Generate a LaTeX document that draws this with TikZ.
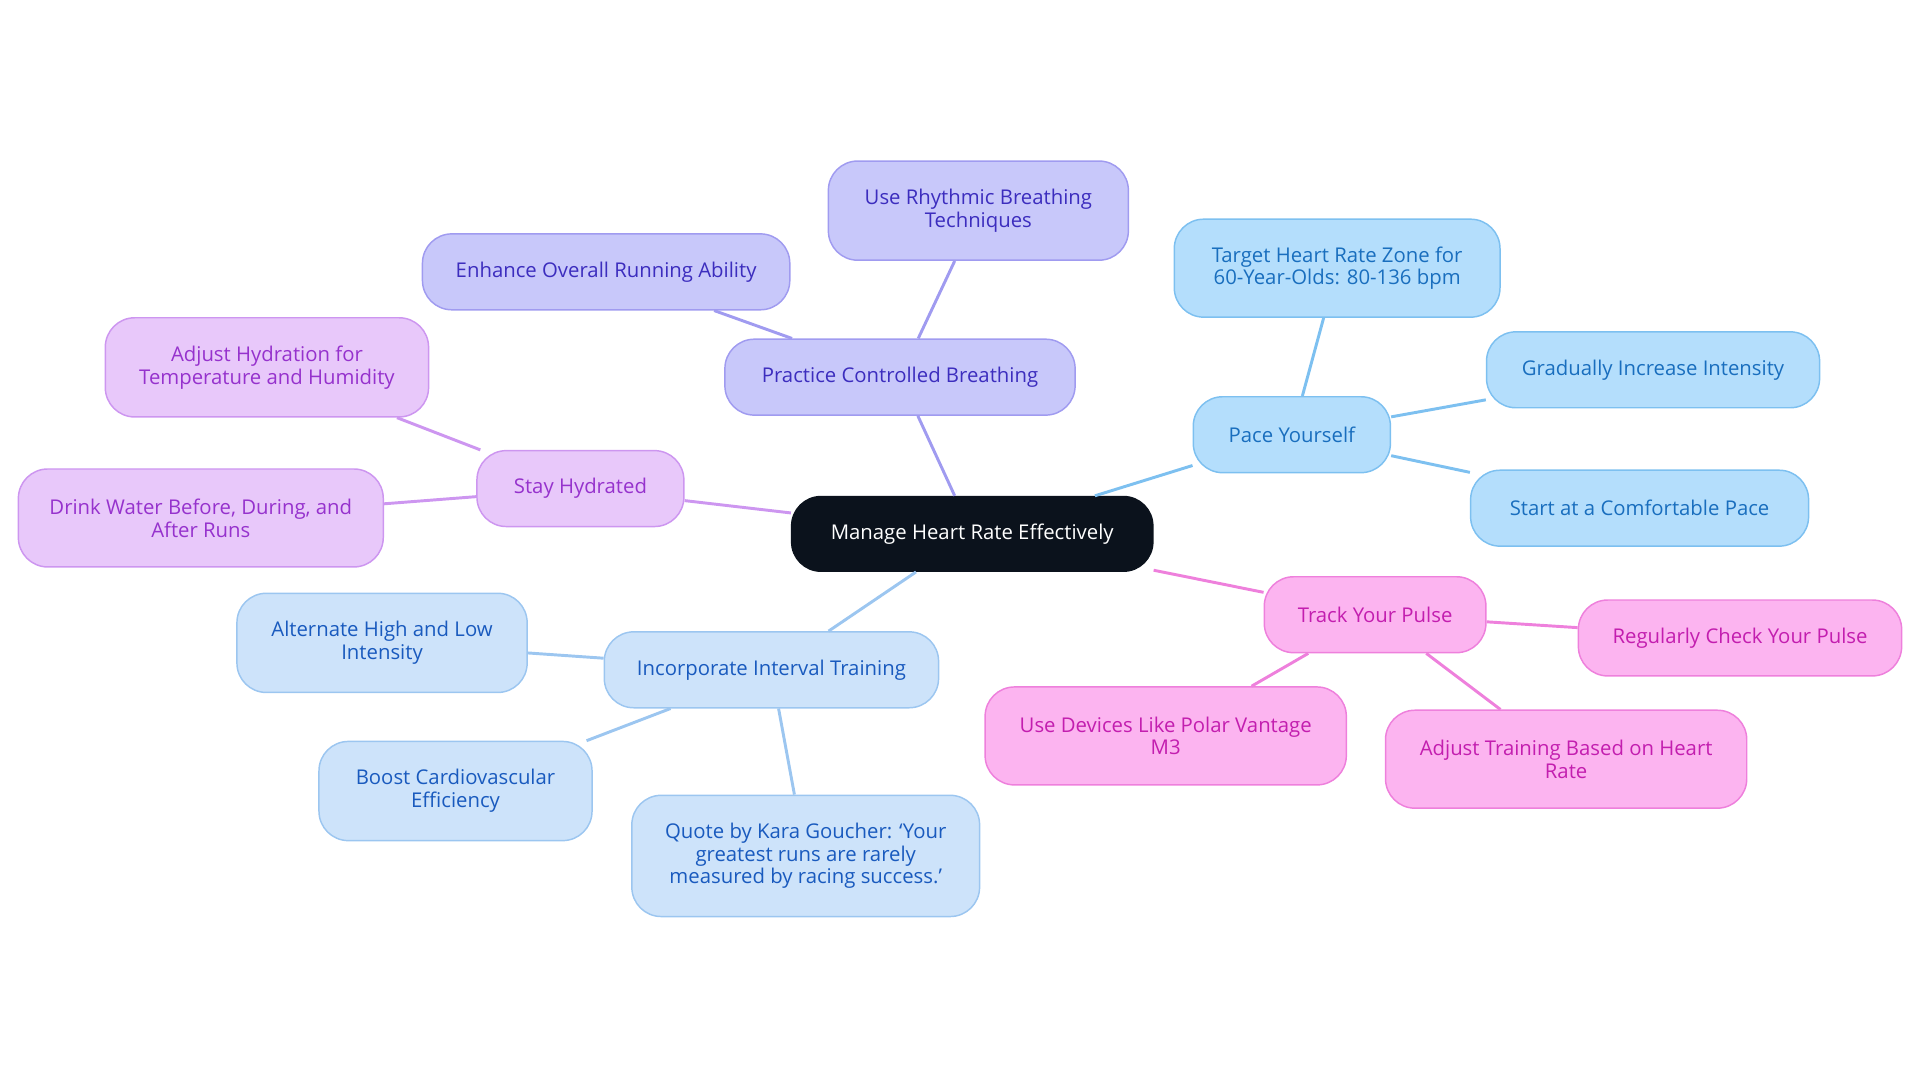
\documentclass[tikz,border=0pt]{standalone}
\usepackage{fontspec}
\setmainfont{Open Sans}
\begin{document}
\begin{tikzpicture}[x=0.5pt,y=-0.5pt,
  base/.style={rounded corners=12pt,draw,line width=0.6pt,align=center,inner sep=0pt,font=\fontsize{8.3}{9.3}\selectfont},
  purp/.style={base,fill=blue!20!white,fill={rgb,255:red,200;green,200;blue,250},draw={rgb,255:red,160;green,155;blue,240},text={rgb,255:red,60;green,45;blue,190}},
  lil/.style={base,fill={rgb,255:red,232;green,200;blue,250},draw={rgb,255:red,205;green,150;blue,240},text={rgb,255:red,150;green,50;blue,205}},
  sky/.style={base,fill={rgb,255:red,180;green,222;blue,252},draw={rgb,255:red,125;green,192;blue,240},text={rgb,255:red,25;green,110;blue,190}},
  pink/.style={base,fill={rgb,255:red,252;green,180;blue,240},draw={rgb,255:red,238;green,128;blue,220},text={rgb,255:red,195;green,30;blue,175}},
  lb/.style={base,fill={rgb,255:red,205;green,227;blue,250},draw={rgb,255:red,156;green,198;blue,240},text={rgb,255:red,25;green,90;blue,190}},
  ep/.style={line width=1.2pt,draw={rgb,255:red,160;green,155;blue,240}},
  el/.style={line width=1.2pt,draw={rgb,255:red,205;green,150;blue,240}},
  es/.style={line width=1.2pt,draw={rgb,255:red,125;green,192;blue,240}},
  epk/.style={line width=1.2pt,draw={rgb,255:red,238;green,128;blue,220}},
  eb/.style={line width=1.2pt,draw={rgb,255:red,156;green,198;blue,240}}]
\useasboundingbox (0,0) rectangle (1568,884);
\node[base,fill={rgb,255:red,11;green,18;blue,28},draw={rgb,255:red,11;green,18;blue,28},text=white,minimum width=147.5pt,minimum height=30.5pt] (c) at (794,436) {Manage Heart Rate Effectively};
\node[purp,minimum width=143pt,minimum height=31pt] (pb) at (735,308) {Practice Controlled Breathing};
\node[purp,minimum width=122.5pt,minimum height=40.5pt] (rb) at (799,172) {Use Rhythmic Breathing\\Techniques};
\node[purp,minimum width=150pt,minimum height=31pt] (er) at (495,222) {Enhance Overall Running Ability};
\node[lil,minimum width=84.5pt,minimum height=31pt] (sh) at (474,399) {Stay Hydrated};
\node[lil,minimum width=132pt,minimum height=40.5pt] (ah) at (218,300) {Adjust Hydration for\\Temperature and Humidity};
\node[lil,minimum width=149pt,minimum height=40pt] (dw) at (164,423) {Drink Water Before, During, and\\After Runs};
\node[sky,minimum width=80.5pt,minimum height=31pt] (py) at (1055,355) {Pace Yourself};
\node[sky,minimum width=133pt,minimum height=40pt] (th) at (1092,219) {Target Heart Rate Zone for\\60-Year-Olds: 80-136 bpm};
\node[sky,minimum width=136pt,minimum height=31pt] (gi) at (1350,302) {Gradually Increase Intensity};
\node[sky,minimum width=138pt,minimum height=31pt] (sc) at (1339,415) {Start at a Comfortable Pace};
\node[pink,minimum width=90.5pt,minimum height=31pt] (tp) at (1123,502) {Track Your Pulse};
\node[pink,minimum width=132pt,minimum height=31pt] (rc) at (1421,521) {Regularly Check Your Pulse};
\node[pink,minimum width=147.5pt,minimum height=40pt] (ud) at (952,601) {Use Devices Like Polar Vantage\\M3};
\node[pink,minimum width=147.5pt,minimum height=40pt] (at) at (1279,620) {Adjust Training Based on Heart\\Rate};
\node[lb,minimum width=136.5pt,minimum height=31pt] (it) at (630,547) {Incorporate Interval Training};
\node[lb,minimum width=118.5pt,minimum height=40.5pt] (al) at (312,525) {Alternate High and Low\\Intensity};
\node[lb,minimum width=111.5pt,minimum height=40.5pt] (bc) at (372,646) {Boost Cardiovascular\\Efficiency};
\node[lb,minimum width=142pt,minimum height=49.5pt] (qk) at (658,699) {Quote by Kara Goucher: `Your\\greatest runs are rarely\\measured by racing success.'};
\draw[ep] (c) -- (pb); \draw[ep] (pb) -- (rb); \draw[ep] (pb) -- (er);
\draw[el] (c) -- (sh); \draw[el] (sh) -- (ah); \draw[el] (sh) -- (dw);
\draw[es] (c) -- (py); \draw[es] (py) -- (th); \draw[es] (py) -- (gi); \draw[es] (py) -- (sc);
\draw[epk] (c) -- (tp); \draw[epk] (tp) -- (rc); \draw[epk] (tp) -- (ud); \draw[epk] (tp) -- (at);
\draw[eb] (c) -- (it); \draw[eb] (it) -- (al); \draw[eb] (it) -- (bc); \draw[eb] (it) -- (qk);
\end{tikzpicture}
\end{document}
